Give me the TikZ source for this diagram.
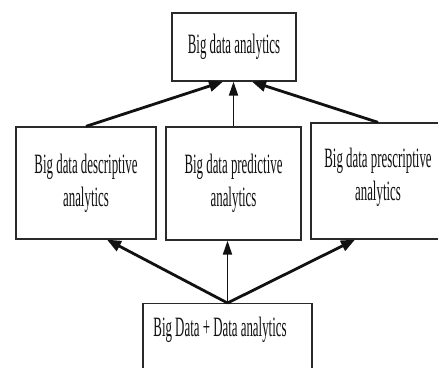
\documentclass[tikz,border=0pt]{standalone}
\usepackage{fontspec}
\setmainfont{Liberation Serif}[FakeStretch=0.46]
\usetikzlibrary{arrows.meta,calc}
\definecolor{ink}{HTML}{111111}
\definecolor{edge}{HTML}{2A2A2A}
\tikzset{
  box/.style={draw=edge, line width=1.3pt, fill=white, text=ink, inner sep=0pt, align=center,
    font=\fontsize{28}{33}\selectfont},
  heavy/.style={draw=ink, line width=2.8pt, -{Triangle[length=14pt,width=11pt]}},
  light/.style={draw=ink, line width=1.9pt, -{Triangle[length=14pt,width=9pt]}}
}
\begin{document}
\begin{tikzpicture}[x=1pt,y=-1pt]
\useasboundingbox (0,0) rectangle (438,367);
\clip (0,0) rectangle (438,367);
\fill[white] (0,0) rectangle (438,367);
\node[box, minimum width=124pt, minimum height=68pt] (top) at (234,47) {Big data analytics};
\node[box, minimum width=140pt, minimum height=112pt] (left) at (86,183) {Big data descriptive\\analytics};
\node[box, minimum width=135pt, minimum height=113pt] (mid) at (233.5,183.5) {Big data predictive\\analytics};
\node[box, minimum width=134pt, minimum height=116pt, text depth=14pt] (right) at (378,181) {Big data prescriptive\\analytics};
\node[box, minimum width=169pt, text height=33pt, text depth=50pt, anchor=north] (bottom) at (227.5,303) {Big Data + Data analytics\hspace*{15pt}};
\draw[heavy] (left.north) -- ($(top.south)+(-11,0)$);
\draw[light] (mid.north) -- (mid.north |- top.south);
\draw[heavy] (right.north) -- ($(top.south)+(18,0)$);
\draw[heavy] (bottom.north) -- ($(left.south)+(21,0)$);
\draw[light] (bottom.north) -- (bottom.north |- mid.south);
\draw[heavy] (bottom.north) -- ($(right.south)+(-23,0)$);
\end{tikzpicture}
\end{document}
